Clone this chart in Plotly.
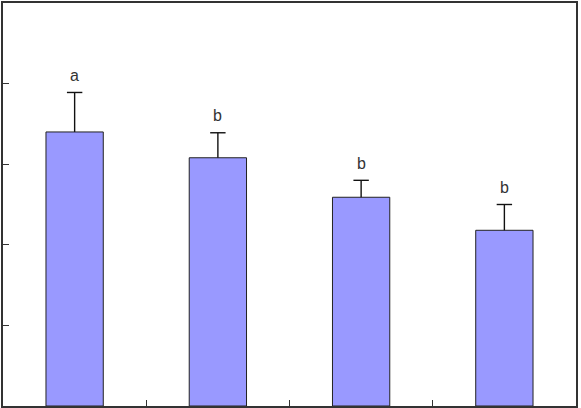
import plotly.graph_objects as go

categories = ["T1", "T2", "T3", "T4"]
means = [3.40, 3.08, 2.59, 2.18]
errors = [0.49, 0.31, 0.21, 0.32]
letters = ["a", "b", "b", "b"]

tops = [m + e for m, e in zip(means, errors)]

fig = go.Figure()
fig.add_trace(go.Bar(
    x=categories, y=means, width=0.4,
    marker=dict(color="#9999FF", line=dict(color="#222222", width=1)),
    showlegend=False,
))

# upward-only error bars: stem from bar top to mean+error, with a cap
for c, m, t in zip(categories, means, tops):
    fig.add_trace(go.Scatter(
        x=[c, c], y=[m, t], mode="lines",
        line=dict(color="#111111", width=1.4), showlegend=False, hoverinfo="skip"))
fig.add_trace(go.Scatter(
    x=categories, y=tops, mode="markers",
    marker=dict(symbol="line-ew", size=11, line=dict(color="#111111", width=1.4)),
    showlegend=False, hoverinfo="skip"))

for c, t, s in zip(categories, tops, letters):
    fig.add_annotation(x=c, y=t, text=s, showarrow=False, yshift=17,
                       font=dict(family="Liberation Sans, Arial", size=16, color="#333333"))

fig.update_xaxes(showline=True, mirror=True, linecolor="#333333", linewidth=1.5,
                 ticks="inside", ticklen=6, tickcolor="#333333", tickson="boundaries",
                 showticklabels=False, showgrid=False, zeroline=False,
                 range=[-0.5, 3.5])
fig.update_yaxes(showline=True, mirror=True, linecolor="#333333", linewidth=1.5,
                 ticks="inside", ticklen=6, tickcolor="#333333",
                 tickvals=[1, 2, 3, 4], showticklabels=False,
                 showgrid=False, zeroline=False, range=[0, 5])

fig.update_layout(width=581, height=408, margin=dict(l=3, r=5, t=3, b=2),
                  plot_bgcolor="white", paper_bgcolor="white", bargap=0.6)
fig.write_html("out.html")
